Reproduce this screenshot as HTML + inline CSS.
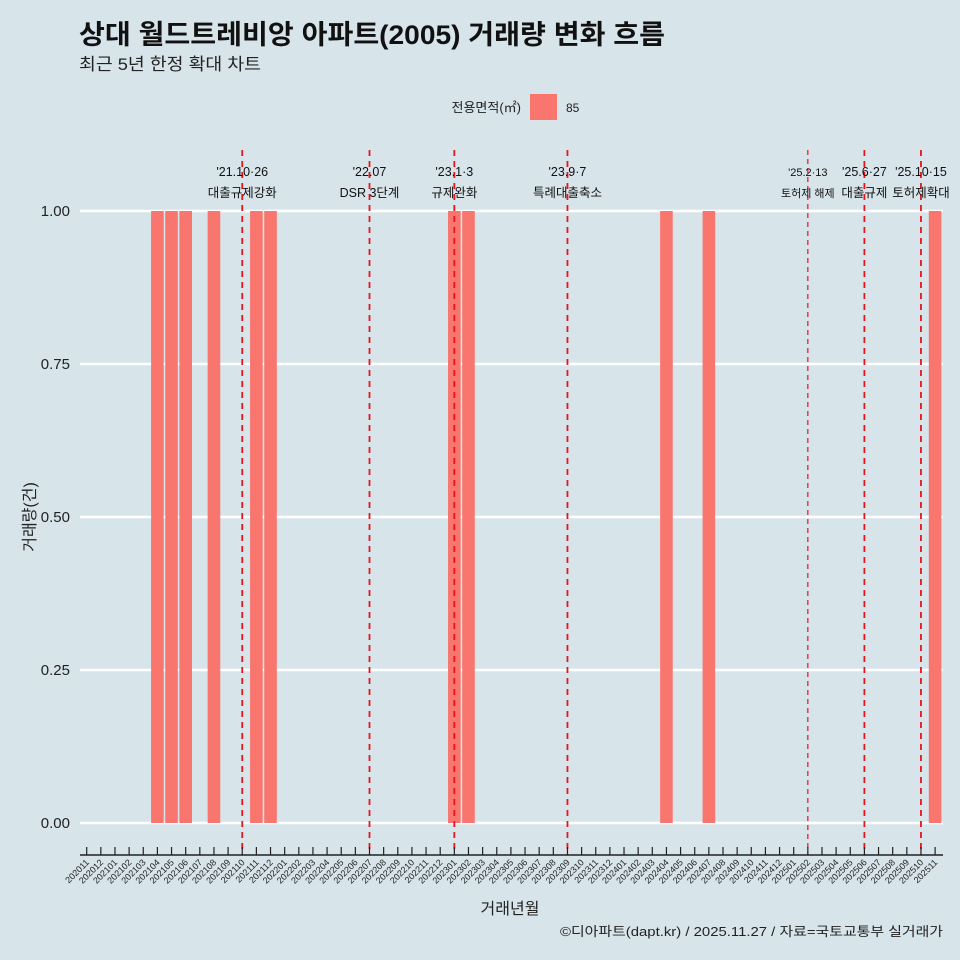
<!DOCTYPE html>
<html><head><meta charset="utf-8"><style>
body{margin:0;background:#d7e4ea;}
svg{display:block;font-family:"Liberation Sans","Noto Sans CJK KR",sans-serif;}
</style></head><body>
<svg id="c" width="960" height="960">
<rect width="960" height="960" fill="#d7e4ea"/>
<text x="79" y="44" font-size="27" font-weight="bold" fill="#111" textLength="586" lengthAdjust="spacingAndGlyphs">상대 월드트레비앙 아파트(2005) 거래량 변화 흐름</text>
<text x="79" y="70" font-size="17" fill="#222" textLength="182" lengthAdjust="spacingAndGlyphs">최근 5년 한정 확대 차트</text>
<text x="521" y="112" font-size="13" text-anchor="end" fill="#222">전용면적(㎡)</text>
<rect x="530" y="94" width="27" height="26" fill="#f8766d"/>
<text x="566" y="112" font-size="12" fill="#222">85</text>
<g id="grid"></g><g id="bars"></g><g id="vlines"></g><g id="xaxis"></g><g id="yaxis"></g>
<text x="510" y="914" font-size="16" text-anchor="middle" fill="#222">거래년월</text>
<text transform="translate(35,517) rotate(-90)" font-size="16" text-anchor="middle" fill="#222">거래량(건)</text>
<text x="560" y="936" font-size="13" fill="#222" textLength="383" lengthAdjust="spacingAndGlyphs">©디아파트(dapt.kr) / 2025.11.27 / 자료=국토교통부 실거래가</text>
</svg>
<script>
const categories=[];for(let y=2020,m=11;y<2025||(y===2025&&m<=11);){categories.push(y+String(m).padStart(2,'0'));m++;if(m>12){m=1;y++;}}
const barMonths=["202104","202105","202106","202108","202111","202112","202301","202302","202404","202407","202511"];
const barValues=[1,1,1,1,1,1,1,1,1,1,1];
const yTicks=[0,0.25,0.5,0.75,1];
const yTickLabels=["0.00","0.25","0.50","0.75","1.00"];
const eventMonths=["202110","202207","202301","202309","202502","202506","202510"];
const eventDates=["'21.10·26","'22.07","'23.1·3","'23.9·7","'25.2·13","'25.6·27","'25.10·15"];
const eventNames=["대출규제강화","DSR 3단계","규제완화","특례대출축소","토허제 해제","대출규제","토허제확대"];
const NS="http://www.w3.org/2000/svg";
const x=c=>86.7+categories.indexOf(c)*14.14;
const y=v=>823-v*612;
function mk(t,a,p){const e=document.createElementNS(NS,t);for(const k in a)e.setAttribute(k,a[k]);document.getElementById(p).appendChild(e);return e;}
yTicks.forEach((v,i)=>{
 const l=mk('line',{x1:80,x2:943,y1:y(v),y2:y(v),stroke:'#fff','stroke-width':2.5},'grid');
 
 
 const t=mk('text',{x:70,y:y(v)+5,'font-size':15,'text-anchor':'end',fill:'#222'},'yaxis');t.textContent=yTickLabels[i];
 
 
});
barMonths.forEach((c,i)=>{
 const r=mk('rect',{x:x(c)-6.3,width:12.6,y:y(barValues[i]),height:y(0)-y(barValues[i]),fill:'#f8766d'},'bars');
 
 
});
eventMonths.forEach((c,i)=>{
 const xx=x(c);const thin=c==="202502";
 const l=mk('line',{x1:xx,x2:xx,y1:150,y2:855,stroke:'#e8141c','stroke-width':thin?1.2:1.8,'stroke-dasharray':thin?'5,4':'6,5'},'vlines');
 
 
 const fs=thin?11:12.5;
 const t1=mk('text',{x:xx,y:176,'font-size':fs,'text-anchor':'middle',fill:'#111'},'vlines');t1.textContent=eventDates[i];
 
 
 const t2=mk('text',{x:xx,y:197,'font-size':fs,'text-anchor':'middle',fill:'#111'},'vlines');t2.textContent=eventNames[i];
 
 
});
const ax=mk('line',{x1:80,x2:943,y1:855,y2:855,stroke:'#222','stroke-width':1.5},'xaxis');


categories.forEach(c=>{
 const xx=x(c);
 const tk=mk('line',{x1:xx,x2:xx,y1:847,y2:855,stroke:'#222','stroke-width':1.2},'xaxis');
 
 
 const t=mk('text',{x:xx+3,y:863,'font-size':9,'text-anchor':'end',fill:'#222',transform:`rotate(-45 ${xx+3} 863)`},'xaxis');t.textContent=c;
 
 
});
</script>
</body></html>
